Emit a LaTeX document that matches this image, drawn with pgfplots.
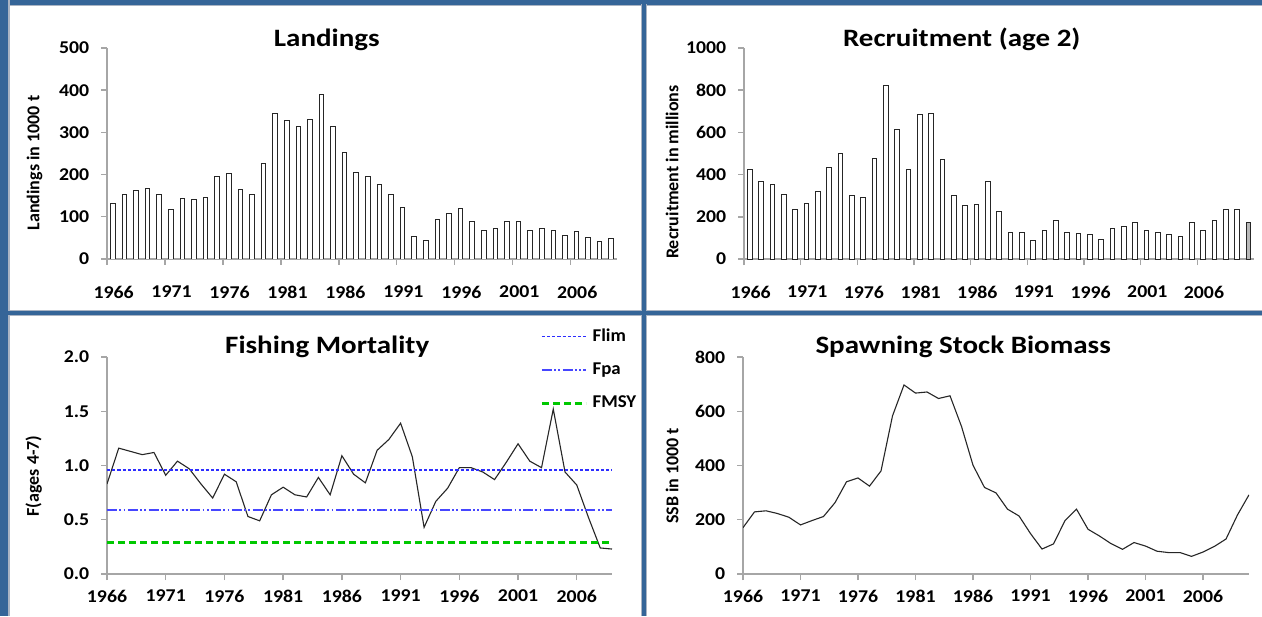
\documentclass[border=0pt]{standalone}
\usepackage{fontspec}
\setmainfont{Carlito}
\usepackage{pgfplots}
\pgfplotsset{compat=1.18}
\definecolor{frameblue}{RGB}{53,101,152}
\definecolor{frameedge}{RGB}{170,180,195}
\definecolor{axgray}{RGB}{166,166,166}
\definecolor{limblue}{RGB}{45,45,255}
\definecolor{pablue}{RGB}{70,70,255}
\definecolor{msygreen}{RGB}{0,200,0}
\pgfplotsset{
  panel/.style={
    scale only axis,
    anchor=south west,
    axis lines*=left,
    axis line style={axgray, line width=0.7pt, -},
    tick style={axgray, line width=0.7pt},
    tick align=outside,
    major tick length=3pt,
    ymin=0,
    /pgf/number format/assume math mode=true,
    /pgf/number format/1000 sep={},
    ticklabel style={font=\bfseries\fontsize{9}{10}\selectfont, xscale=1.1},
    yticklabel shift=2pt,
    every axis title shift=0pt,
    title style={font=\bfseries\fontsize{12.5}{14}\selectfont, anchor=base, xscale=1.16},
    ylabel style={font=\bfseries\fontsize{9}{10}\selectfont, anchor=center},
  },
  barpanel/.style={
    panel,
    ybar, bar width=2.3pt, bar shift=0pt,
    xtick={1965.5,1970.5,1975.5,1980.5,1985.5,1990.5,1995.5,2000.5,2005.5},
    xticklabels={1966,1971,1976,1981,1986,1991,1996,2001,2006},
    xticklabel style={xshift=3pt},
    xticklabel shift=7pt,
  },
  barstyle/.style={draw=black!85, fill=white, line width=0.45pt},
  linepanel/.style={
    panel,
    xtick={1966,1971,1976,1981,1986,1991,1996,2001,2006},
    xticklabel shift=1.5pt,
  },
}
\begin{document}
\begin{tikzpicture}
\path[use as bounding box] (0,0) rectangle (631pt,308pt);
% frame
\fill[white] (0,0) rectangle (631pt,308pt);
\fill[frameedge] (0,304.8pt) rectangle (631pt,308pt);
\fill[frameblue] (0,305.5pt) rectangle (631pt,308pt);
\fill[frameedge] (0,0) rectangle (4.8pt,308pt);
\fill[frameblue] (0,0) rectangle (4pt,308pt);
\fill[frameedge] (320.5pt,0) rectangle (323.5pt,306pt);
\fill[frameedge] (4pt,150pt) rectangle (631pt,153pt);
\fill[frameblue] (321pt,0) rectangle (323pt,306pt);
\fill[frameblue] (4pt,150.5pt) rectangle (631pt,152.5pt);

% Landings
\begin{axis}[barpanel, at={(53.5pt,178.5pt)}, width=255pt, height=105.5pt,
  xmin=1965.5, xmax=2009.5, ymax=500, ytick={0,100,...,500},
  title={Landings}, title style={at={(axis description cs:0.431,1.009)}},
  ylabel={Landings in 1000 t}, ylabel style={at={(axis description cs:-0.142,0.455)}}]
\addplot[barstyle] coordinates {
(1966,132) (1967,152) (1968,162) (1969,168) (1970,154) (1971,118) (1972,143)
(1973,141) (1974,147) (1975,195) (1976,203) (1977,165) (1978,152) (1979,226)
(1980,346) (1981,328) (1982,315) (1983,330) (1984,390) (1985,313) (1986,252)
(1987,205) (1988,195) (1989,177) (1990,152) (1991,122) (1992,54) (1993,44)
(1994,93) (1995,108) (1996,120) (1997,88) (1998,67) (1999,72) (2000,88)
(2001,90) (2002,67) (2003,72) (2004,67) (2005,55) (2006,65) (2007,50)
(2008,42) (2009,48)};
\end{axis}

% Recruitment
\begin{axis}[barpanel, at={(372pt,178.5pt)}, width=255pt, height=105.5pt,
  xmin=1965.5, xmax=2010.5, ymax=1000, ytick={0,200,...,1000},
  title={Recruitment (age 2)}, title style={at={(axis description cs:0.427,1.009)}},
  ylabel={Recruitment in millions}, ylabel style={at={(axis description cs:-0.141,0.412)}}]
\addplot[barstyle] coordinates {
(1966,426) (1967,367) (1968,351) (1969,304) (1970,235) (1971,263) (1972,321)
(1973,433) (1974,502) (1975,300) (1976,292) (1977,478) (1978,824) (1979,613)
(1980,423) (1981,685) (1982,690) (1983,470) (1984,301) (1985,255) (1986,258)
(1987,368) (1988,224) (1989,125) (1990,128) (1991,86) (1992,136) (1993,182)
(1994,128) (1995,120) (1996,116) (1997,91) (1998,147) (1999,152) (2000,174)
(2001,136) (2002,125) (2003,116) (2004,105) (2005,171) (2006,136) (2007,182)
(2008,235) (2009,237)};
\addplot[barstyle, fill=gray!55] coordinates {(2010,174)};
\end{axis}

% Fishing mortality
\begin{axis}[linepanel, at={(53.5pt,21pt)}, width=252.5pt, height=108.5pt,
  xmin=1966, xmax=2009, ymax=2, ytick={0,0.5,...,2},
  yticklabel style={/pgf/number format/.cd, fixed, fixed zerofill, precision=1},
  title={Fishing Mortality}, title style={at={(axis description cs:0.436,1.014)}},
  ylabel={F(ages 4-7)}, ylabel style={at={(axis description cs:-0.145,0.452)}},
  legend style={at={(axis description cs:0.857,1.150)}, anchor=north west, draw=none, fill=none,
    font=\bfseries\fontsize{9}{10}\selectfont, row sep=5.2pt, inner sep=0pt,
    nodes={xscale=1.05, inner xsep=2.5pt}},
  legend cell align=left,
  legend image code/.code={\draw[#1] (0pt,0pt) -- (22pt,0pt);}]
\addplot[black!85, line width=0.55pt, forget plot] coordinates {
(1966,0.83) (1967,1.16) (1968,1.13) (1969,1.10) (1970,1.12) (1971,0.91) (1972,1.04)
(1973,0.97) (1974,0.83) (1975,0.70) (1976,0.92) (1977,0.85) (1978,0.53) (1979,0.49)
(1980,0.73) (1981,0.80) (1982,0.73) (1983,0.71) (1984,0.89) (1985,0.73) (1986,1.09)
(1987,0.92) (1988,0.84) (1989,1.14) (1990,1.24) (1991,1.39) (1992,1.08) (1993,0.43)
(1994,0.67) (1995,0.79) (1996,0.98) (1997,0.98) (1998,0.94) (1999,0.87) (2000,1.03)
(2001,1.20) (2002,1.04) (2003,0.98) (2004,1.52) (2005,0.94) (2006,0.82) (2007,0.52)
(2008,0.24) (2009,0.23)};
\addplot[limblue, line width=0.8pt, dash pattern=on 1.6pt off 1pt] coordinates {(1966,0.96) (2009,0.96)};
\addlegendentry{Flim}
\addplot[pablue, line width=0.9pt, dash pattern=on 5pt off 1.2pt on 0.9pt off 1.2pt on 0.9pt off 1.2pt] coordinates {(1966,0.59) (2009,0.59)};
\addlegendentry{Fpa}
\addplot[msygreen, line width=1.6pt, dash pattern=on 3.5pt off 2pt] coordinates {(1966,0.29) (2009,0.29)};
\addlegendentry{FMSY}
\end{axis}

% SSB
\begin{axis}[linepanel, at={(371.5pt,21pt)}, width=253pt, height=108.5pt,
  xmin=1966, xmax=2010, ymax=800, ytick={0,200,...,800},
  title={Spawning Stock Biomass}, title style={at={(axis description cs:0.435,1.018)}},
  ylabel={SSB in 1000 t}, ylabel style={at={(axis description cs:-0.140,0.452)}}]
\addplot[black!85, line width=0.55pt] coordinates {
(1966,171) (1967,229) (1968,233) (1969,223) (1970,209) (1971,181) (1972,197)
(1973,212) (1974,263) (1975,340) (1976,354) (1977,324) (1978,380) (1979,583)
(1980,697) (1981,667) (1982,671) (1983,647) (1984,657) (1985,544) (1986,401)
(1987,319) (1988,299) (1989,239) (1990,214) (1991,149) (1992,92) (1993,111)
(1994,197) (1995,239) (1996,165) (1997,140) (1998,112) (1999,91) (2000,116)
(2001,103) (2002,84) (2003,79) (2004,79) (2005,65) (2006,81) (2007,102)
(2008,129) (2009,218) (2010,292)};
\end{axis}
\end{tikzpicture}
\end{document}
